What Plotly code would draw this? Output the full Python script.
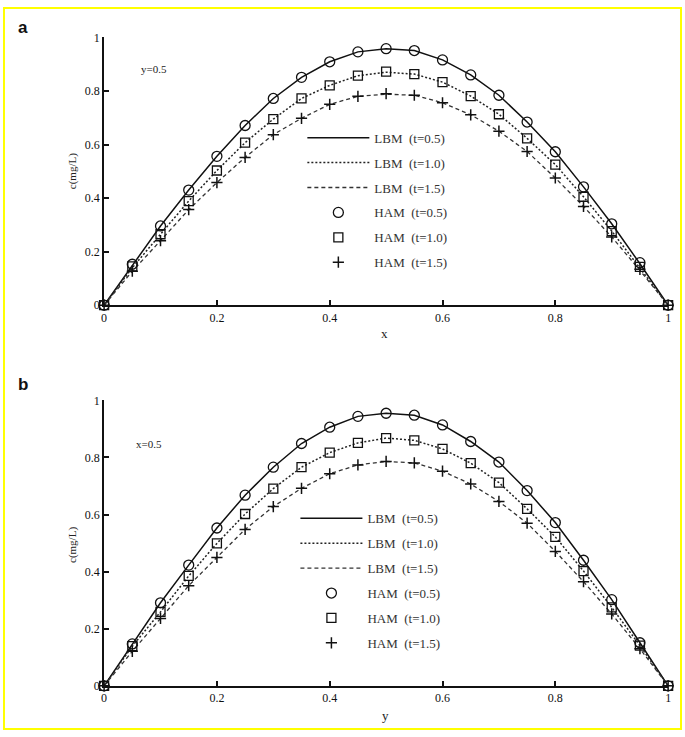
import plotly.graph_objects as go

# ---------------- data ----------------
x_vals = [0, 0.05, 0.10, 0.15, 0.20, 0.25, 0.30, 0.35, 0.40, 0.45, 0.50,
          0.55, 0.60, 0.65, 0.70, 0.75, 0.80, 0.85, 0.90, 0.95, 1.0]

# panel a (y = 0.5), HAM markers
ham_a_t05 = [0, 0.153, 0.296, 0.430, 0.556, 0.671, 0.772, 0.851, 0.909, 0.946, 0.958,
             0.951, 0.916, 0.860, 0.784, 0.684, 0.573, 0.442, 0.304, 0.159, 0]
ham_a_t10 = [0, 0.145, 0.265, 0.389, 0.503, 0.607, 0.695, 0.772, 0.821, 0.857, 0.872,
             0.863, 0.833, 0.781, 0.713, 0.623, 0.525, 0.405, 0.277, 0.143, 0]
ham_a_t15 = [0, 0.127, 0.241, 0.357, 0.458, 0.552, 0.637, 0.698, 0.750, 0.780, 0.790,
             0.784, 0.756, 0.711, 0.650, 0.574, 0.475, 0.369, 0.255, 0.134, 0]
# panel a LBM lines
lbm_a_t05 = [0, 0.150, 0.296, 0.430, 0.556, 0.671, 0.772, 0.851, 0.909, 0.946, 0.958,
             0.951, 0.916, 0.860, 0.784, 0.684, 0.573, 0.442, 0.304, 0.155, 0]
lbm_a_t10 = [0, 0.140, 0.265, 0.389, 0.503, 0.607, 0.695, 0.772, 0.821, 0.857, 0.870,
             0.863, 0.833, 0.781, 0.713, 0.623, 0.525, 0.405, 0.277, 0.140, 0]
lbm_a_t15 = [0, 0.127, 0.241, 0.357, 0.458, 0.552, 0.637, 0.698, 0.750, 0.780, 0.788,
             0.784, 0.756, 0.711, 0.650, 0.574, 0.475, 0.369, 0.255, 0.130, 0]

# panel b (x = 0.5), HAM markers
ham_b_t05 = [0, 0.147, 0.291, 0.423, 0.553, 0.668, 0.766, 0.849, 0.906, 0.944, 0.955,
             0.948, 0.914, 0.856, 0.784, 0.684, 0.572, 0.440, 0.302, 0.151, 0]
ham_b_t10 = [0, 0.139, 0.259, 0.385, 0.499, 0.602, 0.691, 0.766, 0.817, 0.851, 0.868,
             0.860, 0.830, 0.780, 0.712, 0.620, 0.522, 0.402, 0.275, 0.141, 0]
ham_b_t15 = [0, 0.121, 0.236, 0.351, 0.450, 0.548, 0.628, 0.692, 0.743, 0.774, 0.786,
             0.781, 0.752, 0.707, 0.646, 0.570, 0.471, 0.365, 0.252, 0.130, 0]
# panel b LBM lines
lbm_b_t05 = [0, 0.147, 0.291, 0.423, 0.553, 0.668, 0.766, 0.849, 0.906, 0.944, 0.955,
             0.948, 0.914, 0.856, 0.784, 0.684, 0.572, 0.440, 0.302, 0.151, 0]
lbm_b_t10 = [0, 0.139, 0.259, 0.385, 0.499, 0.602, 0.691, 0.766, 0.817, 0.851, 0.868,
             0.860, 0.830, 0.780, 0.712, 0.620, 0.522, 0.402, 0.275, 0.141, 0]
lbm_b_t15 = [0, 0.121, 0.236, 0.351, 0.450, 0.548, 0.628, 0.692, 0.743, 0.774, 0.786,
             0.781, 0.752, 0.707, 0.646, 0.570, 0.471, 0.365, 0.252, 0.130, 0]

tick_vals = [0, 0.2, 0.4, 0.6, 0.8, 1]
tick_text = ["0", "0.2", "0.4", "0.6", "0.8", "1"]

lbm_names = ["LBM  (t=0.5)", "LBM  (t=1.0)", "LBM  (t=1.5)"]
ham_names = ["HAM  (t=0.5)", "HAM  (t=1.0)", "HAM  (t=1.5)"]

# ---------------- styles ----------------
W, H = 685, 737
SERIF = "Liberation Serif, Times New Roman, serif"
line_styles = [dict(color="#111111", width=1.5, dash="solid"),
               dict(color="#222222", width=1.5, dash="2px,2px"),
               dict(color="#333333", width=1.3, dash="4px,3px")]
marker_styles = [dict(symbol="circle-open", size=10, color="#111111", line=dict(width=1.3, color="#111111")),
                 dict(symbol="square-open", size=9, color="#111111", line=dict(width=1.3, color="#111111")),
                 dict(symbol="cross-thin-open", size=8, color="#111111", line=dict(width=1.5, color="#111111"))]

fig = go.Figure()

panels = [
    dict(xa="x", ya="y", legend="legend",
         lbm=[lbm_a_t05, lbm_a_t10, lbm_a_t15], ham=[ham_a_t05, ham_a_t10, ham_a_t15]),
    dict(xa="x2", ya="y2", legend="legend2",
         lbm=[lbm_b_t05, lbm_b_t10, lbm_b_t15], ham=[ham_b_t05, ham_b_t10, ham_b_t15]),
]

for p in panels:
    for i in range(3):
        fig.add_trace(go.Scatter(x=x_vals, y=p["lbm"][i], mode="lines", name=lbm_names[i],
                                 line=line_styles[i], xaxis=p["xa"], yaxis=p["ya"],
                                 legend=p["legend"], legendgroup=p["legend"] + "l" + str(i),
                                 cliponaxis=False))
    for i in range(3):
        fig.add_trace(go.Scatter(x=x_vals, y=p["ham"][i], mode="markers", name=ham_names[i],
                                 marker=marker_styles[i], xaxis=p["xa"], yaxis=p["ya"],
                                 legend=p["legend"], legendgroup=p["legend"] + "h" + str(i),
                                 cliponaxis=False))

def px_x(v):
    return v / W

def px_y(v):
    return 1 - v / H

axis_common = dict(range=[0, 1], showline=True, linecolor="#111111", linewidth=2,
                   ticks="inside", ticklen=5, tickwidth=2, tickcolor="#111111",
                   showgrid=False, zeroline=False, tickvals=tick_vals, ticktext=tick_text,
                   tickfont=dict(family=SERIF, size=12, color="#111111"), mirror=False)

legend_common = dict(font=dict(family=SERIF, size=13, color="#333333"), bgcolor="rgba(0,0,0,0)",
                     itemwidth=62, tracegroupgap=5, traceorder="grouped",
                     xanchor="left", yanchor="top", itemclick=False)

fig.update_layout(
    width=W, height=H,
    margin=dict(l=0, r=0, t=0, b=0),
    paper_bgcolor="white", plot_bgcolor="white",
    showlegend=True,
    xaxis=dict(domain=[px_x(102), px_x(671)], anchor="y", **axis_common),
    yaxis=dict(domain=[px_y(304), px_y(31)], anchor="x", **axis_common),
    xaxis2=dict(domain=[px_x(102), px_x(671)], anchor="y2", **axis_common),
    yaxis2=dict(domain=[px_y(692), px_y(401)], anchor="x2", **axis_common),
    legend=dict(x=px_x(302), y=px_y(118), **legend_common),
    legend2=dict(x=px_x(295), y=px_y(506), **legend_common),
)

annotations = [
    dict(text="<b>a</b>", x=px_x(20), y=px_y(21), font=dict(family="Liberation Sans, Arial", size=17, color="#111")),
    dict(text="<b>b</b>", x=px_x(20), y=px_y(385), font=dict(family="Liberation Sans, Arial", size=17, color="#111")),
    dict(text="y=0.5", x=px_x(152), y=px_y(63), font=dict(family=SERIF, size=11, color="#222")),
    dict(text="x=0.5", x=px_x(147), y=px_y(445), font=dict(family=SERIF, size=11, color="#222")),
    dict(text="c(mg/L)", x=px_x(70), y=px_y(167), textangle=-90, font=dict(family=SERIF, size=11, color="#222")),
    dict(text="c(mg/L)", x=px_x(70), y=px_y(548), textangle=-90, font=dict(family=SERIF, size=11, color="#222")),
    dict(text="x", x=px_x(385), y=px_y(333), font=dict(family=SERIF, size=13, color="#222")),
    dict(text="y", x=px_x(386), y=px_y(722), font=dict(family=SERIF, size=13, color="#222")),
]
for a in annotations:
    a.update(xref="paper", yref="paper", showarrow=False, xanchor="center", yanchor="middle")
fig.update_layout(annotations=annotations)

fig.add_shape(type="rect", xref="paper", yref="paper",
              x0=1 / W, x1=1 - 1 / W, y0=1 / H, y1=1 - 1 / H,
              line=dict(color="#FFFF00", width=2), fillcolor="rgba(0,0,0,0)", layer="above")

fig.write_html("out.html",
               config={"displayModeBar": False, "responsive": False},
               post_script=("document.documentElement.style.margin='0';"
                            "document.body.style.margin='0';document.body.style.padding='0';"
                            "document.documentElement.style.overflow='hidden';"
                            "document.body.style.overflow='hidden';"
                            "var d=document.getElementById('{plot_id}');"
                            "d.style.position='fixed';d.style.left='0px';d.style.top='0px';"))
